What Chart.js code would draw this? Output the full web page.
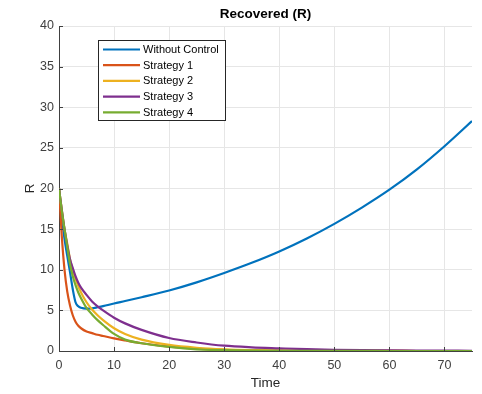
<!DOCTYPE html>
<html>
<head>
<meta charset="utf-8">
<script src="https://cdn.jsdelivr.net/npm/chart.js@4.4.0/dist/chart.umd.min.js"></script>
<style>
  html, body { margin: 0; padding: 0; background: #ffffff; }
  #wrap { width: 482px; height: 394px; position: relative; }
</style>
</head>
<body>
<div id="wrap"><canvas id="c" width="482" height="394"></canvas></div>
<script>
const chartTitle = 'Recovered (R)';
const xLabel = 'Time';
const yLabel = 'R';
const seriesNames = ['Without Control', 'Strategy 1', 'Strategy 2', 'Strategy 3', 'Strategy 4'];
const seriesColors = ['#0072BD', '#D95319', '#EDB120', '#7E2F8E', '#77AC30'];

const time = [0, 0.5, 1, 1.5, 2, 2.5, 3, 3.5, 4, 5, 6, 7, 8, 10, 12, 15, 20, 25, 30, 35, 40, 45, 50, 55, 60, 65, 70, 75];

const withoutControl = [20, 16.5, 13.8, 11.7, 9.7, 7.6, 6.0, 5.5, 5.32, 5.22, 5.25, 5.38, 5.52, 5.85, 6.15, 6.62, 7.45, 8.45, 9.6, 10.85, 12.25, 13.85, 15.65, 17.65, 19.85, 22.35, 25.2, 28.3];
const strategy1 = [20, 14.2, 10.0, 7.3, 5.6, 4.4, 3.6, 3.1, 2.8, 2.4, 2.2, 2.0, 1.85, 1.55, 1.3, 0.95, 0.55, 0.3, 0.15, 0.08, 0.05, 0.03, 0.02, 0.01, 0.01, 0, 0, 0];
const strategy2 = [20, 17.4, 15.0, 13.2, 11.3, 10.0, 8.9, 8.0, 7.2, 6.0, 5.1, 4.4, 3.8, 2.8, 2.1, 1.4, 0.75, 0.4, 0.2, 0.1, 0.05, 0.03, 0.02, 0.01, 0.01, 0, 0, 0];
const strategy3 = [20, 17.4, 15.0, 13.0, 11.3, 10.2, 9.2, 8.4, 7.8, 6.9, 6.1, 5.5, 5.0, 4.1, 3.4, 2.6, 1.6, 1.05, 0.65, 0.45, 0.33, 0.22, 0.15, 0.1, 0.07, 0.05, 0.04, 0.03];
const strategy4 = [20, 17.3, 15.0, 12.8, 10.7, 9.2, 8.1, 7.2, 6.5, 5.3, 4.5, 3.8, 3.2, 2.1, 1.4, 0.95, 0.5, 0.2, 0.1, 0.05, 0.03, 0.02, 0.01, 0.01, 0, 0, 0, 0];

const seriesValues = [withoutControl, strategy1, strategy2, strategy3, strategy4];
const xMin = 0, xMax = 75, xStep = 10;
const yMin = 0, yMax = 40, yStep = 5;

const FONT = '"Liberation Sans", Arial, Helvetica, sans-serif';
const axisColor = '#404040';
const gridColor = '#e6e6e6';

const datasets = seriesValues.map((vals, i) => ({
  label: seriesNames[i],
  data: time.map((t, k) => ({ x: t, y: vals[k] })),
  borderColor: seriesColors[i],
  backgroundColor: seriesColors[i],
  borderWidth: 2.2,
  pointRadius: 0,
  cubicInterpolationMode: 'monotone',
  fill: false,
  order: seriesValues.length - i
}));

const overlay = {
  id: 'overlay',
  afterDraw(chart) {
    const ctx = chart.ctx;
    const area = chart.chartArea;
    const xs = chart.scales.x, ys = chart.scales.y;
    ctx.save();
    // inward tick marks
    ctx.strokeStyle = axisColor;
    ctx.lineWidth = 1;
    ctx.beginPath();
    xs.ticks.forEach(t => {
      const px = Math.round(xs.getPixelForValue(t.value)) + 0.5;
      ctx.moveTo(px, area.bottom);
      ctx.lineTo(px, area.bottom - 4);
    });
    ys.ticks.forEach(t => {
      const py = Math.round(ys.getPixelForValue(t.value)) + 0.5;
      ctx.moveTo(area.left, py);
      ctx.lineTo(area.left + 4, py);
    });
    ctx.stroke();
    // title
    ctx.fillStyle = '#000000';
    ctx.font = 'bold 13.5px ' + FONT;
    ctx.textAlign = 'center';
    ctx.textBaseline = 'middle';
    ctx.fillText(chartTitle, (area.left + area.right) / 2, 14);
    // legend
    const bx = 98.5, by = 40.5, bw = 127, bh = 80;
    ctx.fillStyle = '#ffffff';
    ctx.fillRect(bx, by, bw, bh);
    ctx.strokeStyle = '#262626';
    ctx.lineWidth = 1;
    ctx.strokeRect(bx, by, bw, bh);
    ctx.font = '11px ' + FONT;
    ctx.textAlign = 'left';
    ctx.textBaseline = 'middle';
    chart.data.datasets.forEach((ds, i) => {
      const y = 49.5 + i * 15.7;
      ctx.strokeStyle = ds.borderColor;
      ctx.lineWidth = 2.2;
      ctx.beginPath();
      ctx.moveTo(103, y);
      ctx.lineTo(140, y);
      ctx.stroke();
      ctx.fillStyle = '#000000';
      ctx.fillText(ds.label, 143, y + 0.5);
    });
    ctx.restore();
  }
};

new Chart(document.getElementById('c'), {
  type: 'line',
  data: { datasets },
  plugins: [overlay],
  options: {
    responsive: false,
    animation: false,
    events: [],
    layout: { padding: { top: 26, right: 10, left: 0, bottom: 0 } },
    plugins: { legend: { display: false }, tooltip: { enabled: false }, title: { display: false } },
    scales: {
      x: {
        type: 'linear',
        min: xMin, max: xMax,
        afterBuildTicks: s => { s.ticks = s.ticks.filter(t => t.value % xStep === 0); },
        afterFit: s => { s.height = 43; },
        ticks: { stepSize: xStep, color: axisColor, font: { family: FONT, size: 12.5 }, padding: 7, maxRotation: 0 },
        grid: { color: gridColor, drawTicks: false, lineWidth: 1 },
        border: { color: axisColor, width: 1 },
        title: { display: true, text: xLabel, color: '#262626', font: { family: FONT, size: 13.5 }, padding: { top: 0, bottom: 3 } }
      },
      y: {
        type: 'linear',
        min: yMin, max: yMax,
        afterFit: s => { s.width = 59; },
        ticks: { stepSize: yStep, color: axisColor, font: { family: FONT, size: 12.5 }, padding: 5 },
        grid: { color: gridColor, drawTicks: false, lineWidth: 1 },
        border: { color: axisColor, width: 1 },
        title: { display: true, text: yLabel, color: '#262626', font: { family: FONT, size: 13.5 }, padding: { top: 22, bottom: 0 } }
      }
    }
  }
});
</script>
</body>
</html>
